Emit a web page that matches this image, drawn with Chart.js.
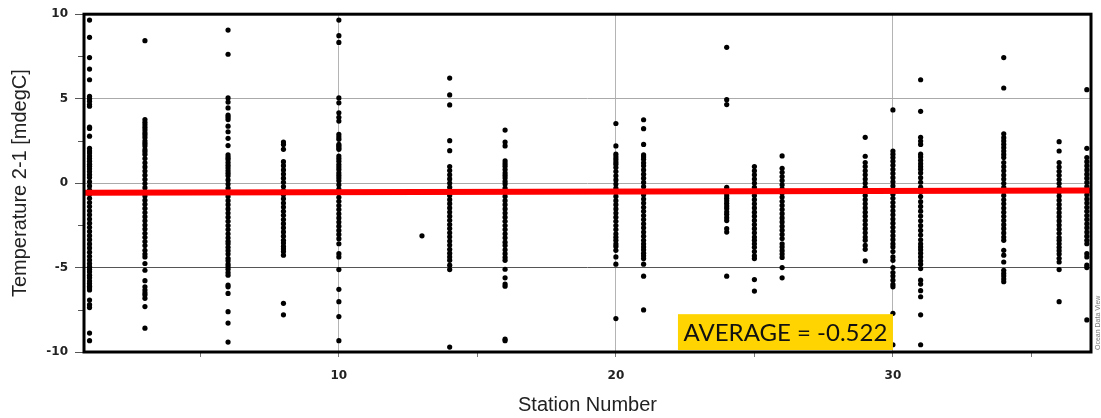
<!DOCTYPE html>
<html><head><meta charset="utf-8">
<script src="https://cdn.jsdelivr.net/npm/chart.js@4.4.0/dist/chart.umd.min.js"></script>
<style>html,body{margin:0;padding:0;background:#fff;overflow:hidden;}</style>
</head><body>
<canvas id="c" width="1101" height="418"></canvas>
<script>
const stations = [1,3,6,8,10,13,14,16,20,21,24,25,26,29,30,31,34,36,37];
const s01 = [9.65,8.63,7.43,6.75,6.12,5.14,5.0,4.84,4.65,4.55,3.31,3.24,2.78,2.06,1.9,1.78,1.6,1.45,1.3,1.12,1.0,0.85,0.68,0.5,0.33,0.08,-0.17,-0.41,-0.66,-0.9,-1.15,-1.39,-1.64,-1.88,-2.13,-2.37,-2.62,-2.86,-3.11,-3.35,-3.6,-3.84,-4.09,-4.33,-4.56,-4.76,-4.95,-5.1,-5.25,-5.45,-5.6,-5.8,-5.95,-6.1,-6.2,-6.33,-6.92,-7.2,-7.37,-8.88,-9.33];
const s03 = [8.43,3.76,3.6,3.45,3.3,3.15,2.98,2.85,2.7,2.5,2.35,2.2,1.98,1.85,1.7,1.45,1.2,0.96,0.71,0.47,0.22,-0.03,-0.27,-0.52,-0.76,-1.01,-1.25,-1.5,-1.74,-1.99,-2.23,-2.48,-2.72,-2.97,-3.21,-3.46,-3.7,-3.98,-4.2,-4.37,-4.76,-5.16,-5.78,-6.14,-6.33,-6.5,-6.63,-6.82,-7.31,-8.59];
const s06 = [9.06,7.63,5.04,4.8,4.45,4.02,3.9,3.76,3.37,3.04,2.65,2.22,1.67,1.52,1.4,1.22,1.05,0.9,0.73,0.58,0.43,0.19,-0.06,-0.3,-0.55,-0.79,-1.04,-1.28,-1.53,-1.77,-2.02,-2.26,-2.51,-2.75,-3.0,-3.24,-3.45,-3.59,-3.8,-4.0,-4.2,-4.45,-4.6,-4.8,-4.95,-5.1,-5.3,-5.45,-6.04,-6.14,-6.53,-7.61,-8.29,-9.41];
const s08 = [2.43,2.29,2.0,1.27,1.03,0.78,0.54,0.29,0.05,-0.2,-0.44,-0.69,-0.93,-1.18,-1.42,-1.67,-1.91,-2.16,-2.4,-2.65,-2.89,-3.14,-3.39,-3.55,-3.75,-3.9,-4.05,-4.27,-7.12,-7.8];
const s10 = [9.65,8.73,8.33,5.04,4.75,4.16,3.9,3.67,2.88,2.73,2.59,2.29,2.2,2.1,2.0,1.6,1.45,1.3,1.1,0.95,0.8,0.6,0.45,0.3,0.14,-0.1,-0.35,-0.59,-0.84,-1.08,-1.33,-1.57,-1.82,-2.06,-2.31,-2.55,-2.8,-3.04,-3.29,-3.59,-4.18,-4.37,-5.12,-6.29,-7.02,-7.9,-9.33];
const s13 = [-3.12];
const s14 = [6.22,5.22,4.63,2.51,1.92,0.98,0.74,0.49,0.25,0.0,-0.24,-0.49,-0.73,-0.98,-1.22,-1.47,-1.71,-1.96,-2.2,-2.45,-2.69,-2.94,-3.18,-3.43,-3.67,-3.92,-4.15,-4.37,-4.57,-4.86,-5.12,-9.71];
const s16 = [3.14,2.43,2.2,1.31,1.15,1.0,0.8,0.6,0.45,0.3,0.1,-0.06,-0.3,-0.55,-0.79,-1.04,-1.28,-1.53,-1.77,-2.02,-2.26,-2.51,-2.75,-3.0,-3.24,-3.5,-3.7,-3.95,-4.18,-4.4,-4.57,-5.1,-5.61,-5.98,-6.1,-9.24,-9.33];
const s20 = [3.53,2.2,1.71,1.55,1.4,1.25,1.12,0.92,0.68,0.43,0.19,-0.06,-0.3,-0.55,-0.79,-1.04,-1.28,-1.53,-1.77,-2.02,-2.26,-2.51,-2.75,-3.0,-3.2,-3.39,-3.6,-3.75,-3.98,-4.37,-4.8,-8.02];
const s21 = [3.75,3.22,2.29,1.67,1.55,1.41,1.2,1.02,0.78,0.53,0.29,0.04,-0.2,-0.45,-0.69,-0.94,-1.18,-1.43,-1.67,-1.92,-2.16,-2.41,-2.65,-2.9,-3.14,-3.39,-3.59,-3.78,-3.95,-4.15,-4.3,-4.47,-4.8,-5.51,-7.51];
const s24 = [8.04,4.94,4.65,-0.25,-0.45,-0.6,-0.75,-0.9,-1.05,-1.2,-1.35,-1.5,-1.7,-1.85,-2.05,-2.22,-2.7,-2.9,-5.51];
const s25 = [0.98,0.73,0.49,0.24,0.0,-0.25,-0.49,-0.74,-0.98,-1.23,-1.47,-1.72,-1.96,-2.21,-2.45,-2.7,-2.94,-3.19,-3.39,-3.59,-3.8,-4.05,-4.3,-4.47,-5.71,-6.39];
const s26 = [1.61,0.88,0.64,0.39,0.15,-0.1,-0.34,-0.59,-0.83,-1.08,-1.32,-1.57,-1.81,-2.06,-2.3,-2.55,-2.79,-3.04,-3.28,-3.59,-3.78,-4.0,-4.2,-4.4,-5.0,-5.61];
const s29 = [2.71,1.59,1.22,0.98,0.73,0.49,0.24,0.0,-0.25,-0.49,-0.74,-0.98,-1.23,-1.47,-1.72,-1.96,-2.21,-2.45,-2.7,-2.94,-3.19,-3.39,-3.69,-3.92,-4.61];
const s30 = [4.33,1.9,1.71,1.51,1.3,1.06,0.81,0.57,0.32,0.08,-0.17,-0.41,-0.66,-0.9,-1.15,-1.39,-1.64,-1.88,-2.13,-2.37,-2.62,-2.86,-3.11,-3.35,-3.59,-3.78,-4.05,-4.37,-4.57,-5.0,-5.3,-5.5,-5.75,-6.0,-6.14,-7.71,-9.57];
const s31 = [6.12,4.25,2.71,2.49,2.29,1.71,1.55,1.35,1.15,0.98,0.82,0.6,0.32,0.05,-0.24,-0.52,-0.8,-1.1,-1.38,-1.66,-1.95,-2.23,-2.52,-2.8,-3.08,-3.36,-3.59,-3.78,-3.95,-4.15,-4.37,-4.6,-4.8,-5.06,-5.75,-5.98,-6.37,-6.73,-7.8,-9.57];
const s34 = [7.43,5.63,2.92,2.69,2.5,2.3,2.1,1.9,1.7,1.51,1.22,0.97,0.73,0.48,0.24,-0.01,-0.25,-0.5,-0.74,-0.99,-1.23,-1.48,-1.72,-1.97,-2.21,-2.46,-2.7,-2.95,-3.19,-3.39,-3.98,-4.27,-4.67,-5.16,-5.35,-5.5,-5.68,-5.84];
const s36 = [2.45,1.9,1.22,0.95,0.7,0.46,0.21,-0.03,-0.28,-0.52,-0.77,-1.01,-1.26,-1.5,-1.75,-1.99,-2.24,-2.48,-2.73,-2.97,-3.22,-3.39,-3.59,-3.8,-4.0,-4.2,-4.45,-4.67,-5.12,-7.02];
const s37 = [5.53,2.06,1.51,1.27,1.02,0.78,0.53,0.29,0.04,-0.2,-0.45,-0.69,-0.94,-1.18,-1.43,-1.67,-1.92,-2.16,-2.41,-2.65,-2.9,-3.14,-3.39,-3.59,-4.18,-4.37,-4.86,-5.0,-8.1];
const stationValues = [s01,s03,s06,s08,s10,s13,s14,s16,s20,s21,s24,s25,s26,s29,s30,s31,s34,s36,s37];
const trendX = [0.8, 37.15];
const trendY = [-0.57, -0.44];
const averageLabel = 'AVERAGE = -0.522';
const xTicks = [5,10,15,20,25,30,35];
const yTicks = [-10,-7.5,-5,-2.5,0,2.5,5,7.5,10];
const xTitle = 'Station Number';
const yTitle = 'Temperature 2-1 [mdegC]';
const sideNote = 'Ocean Data View';

const points = stations.flatMap((s, i) => stationValues[i].map(v => ({x: s, y: v})));
const trend = trendX.map((x, i) => ({x, y: trendY[i]}));

const box = {x0: 22.24, x1: 30.0, y0: -7.76, y1: -9.88};

const framePlugin = {
  id: 'frame',
  afterDatasetsDraw(chart) {
    const {ctx, chartArea: a, scales: {x, y}} = chart;
    ctx.save();
    ctx.strokeStyle = '#555'; ctx.lineWidth = 1;
    yTicks.filter(v => v % 5 !== 0).forEach(v => {
      const py = Math.round(y.getPixelForValue(v)) + 0.5;
      ctx.beginPath(); ctx.moveTo(a.left - 6, py); ctx.lineTo(a.left, py); ctx.stroke();
    });
    const bx0 = x.getPixelForValue(box.x0), bx1 = x.getPixelForValue(box.x1);
    const by0 = y.getPixelForValue(box.y0), by1 = y.getPixelForValue(box.y1);
    ctx.fillStyle = '#FFD400';
    ctx.fillRect(bx0, by0, bx1 - bx0, by1 - by0);
    ctx.fillStyle = '#111';
    ctx.font = '24px Lato, "Open Sans", sans-serif';
    ctx.textAlign = 'center'; ctx.textBaseline = 'middle';
    ctx.fillText(averageLabel, (bx0 + bx1) / 2, (by0 + by1) / 2 + 1);
    ctx.lineWidth = 3; ctx.strokeStyle = '#000';
    ctx.strokeRect(a.left, a.top, a.right - a.left, a.bottom - a.top);
    ctx.translate(a.right + 7, a.bottom);
    ctx.rotate(-Math.PI / 2);
    ctx.font = '7px "Liberation Sans", sans-serif';
    ctx.fillStyle = '#777'; ctx.textAlign = 'left'; ctx.textBaseline = 'middle';
    ctx.fillText(sideNote, 2, 0);
    ctx.restore();
  }
};

new Chart(document.getElementById('c').getContext('2d'), {
  type: 'scatter',
  data: {
    datasets: [
      {type: 'line', data: trend, borderColor: '#ff0000', borderWidth: 6, pointRadius: 0, borderCapStyle: 'butt', order: 0},
      {type: 'scatter', data: points, backgroundColor: '#000', borderWidth: 0, pointRadius: 2.6, order: 1}
    ]
  },
  options: {
    responsive: false,
    devicePixelRatio: 1,
    animation: false,
    layout: {padding: {left: 0, right: 10, top: 12, bottom: 0}},
    plugins: {legend: {display: false}, tooltip: {enabled: false}},
    scales: {
      x: {
        type: 'linear', min: 0.8, max: 37.15,
        afterBuildTicks: s => { s.ticks = xTicks.map(v => ({value: v})); },
        afterFit: s => { s.height = 66; },
        border: {display: false},
        grid: {
          color: c => (c.tick && c.tick.value % 10 === 0) ? '#b4b4b4' : 'rgba(0,0,0,0)',
          lineWidth: 1, tickLength: 5, tickColor: '#777', drawTicks: true
        },
        ticks: {
          autoSkip: false, maxRotation: 0, includeBounds: false, padding: 12,
          callback: v => (v % 10 === 0 ? String(v) : ''),
          font: {family: '"DejaVu Sans", sans-serif', weight: 'bold', size: 12},
          color: '#222'
        },
        title: {display: true, text: xTitle, color: '#222',
          font: {family: '"Liberation Sans", Arial, sans-serif', size: 20},
          padding: {top: 0, bottom: 1}}
      },
      y: {
        type: 'linear', min: -10, max: 10,
        afterBuildTicks: s => { s.ticks = yTicks.map(v => ({value: v})); },
        afterFit: s => { s.width = 84; },
        border: {display: false},
        grid: {
          color: c => {
            const v = c.tick ? c.tick.value : null;
            if (v === -5) return '#555';
            if (v === 0 || v === 5) return '#aaa';
            return 'rgba(0,0,0,0)';
          },
          tickColor: c => (c.tick && c.tick.value % 5 === 0) ? '#555' : 'rgba(0,0,0,0)',
          lineWidth: 1, tickLength: 9, drawTicks: true
        },
        ticks: {
          autoSkip: false, includeBounds: false, padding: 7,
          callback: v => (v % 5 === 0 ? String(v) : ''),
          font: {family: '"DejaVu Sans", sans-serif', weight: 'bold', size: 12},
          color: '#222'
        },
        title: {display: true, text: yTitle, color: '#222',
          font: {family: '"Liberation Sans", Arial, sans-serif', size: 20},
          padding: {top: 8, bottom: 0}}
      }
    }
  },
  plugins: [framePlugin]
});
</script>
</body></html>
